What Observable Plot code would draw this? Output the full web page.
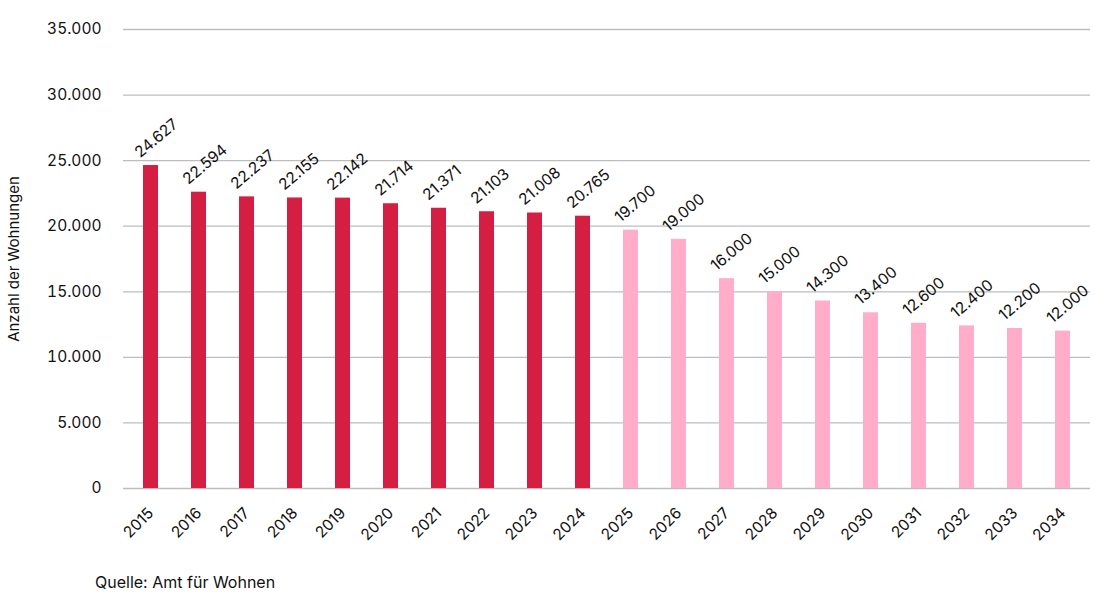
<!DOCTYPE html>
<html><head><meta charset="utf-8">
<script src="https://cdn.jsdelivr.net/npm/d3@7"></script>
<script src="https://cdn.jsdelivr.net/npm/@observablehq/plot@0.6"></script>
<style>
body{margin:0;background:#fff;font-family:Inter,sans-serif;}
#caption{position:absolute;left:95px;top:572px;font-size:16px;color:#111;}
</style></head><body>
<div id="chart"></div>
<div id="caption">Quelle: Amt für Wohnen</div>
<script>
const years = ["2015","2016","2017","2018","2019","2020","2021","2022","2023","2024","2025","2026","2027","2028","2029","2030","2031","2032","2033","2034"];
const values = [24627,22594,22237,22155,22142,21714,21371,21103,21008,20765,19700,19000,16000,15000,14300,13400,12600,12400,12200,12000];
const kinds = ["Ist","Ist","Ist","Ist","Ist","Ist","Ist","Ist","Ist","Ist","Prognose","Prognose","Prognose","Prognose","Prognose","Prognose","Prognose","Prognose","Prognose","Prognose"];
const yTicks = [0,5000,10000,15000,20000,25000,30000,35000];

const data = years.map((y,i)=>({year:y, value:values[i], kind:kinds[i]}));
const de = d3.formatLocale({decimal:",", thousands:".", grouping:[3], currency:["","€"]});
const fmt = de.format(",d");

const chart = Plot.plot({
  width:1111, height:558,
  marginLeft:123, marginRight:21, marginTop:29, marginBottom:70,
  style:{fontFamily:"Inter, sans-serif", fontSize:"15.5px", color:"#111"},
  x:{domain:years, paddingInner:0.69, paddingOuter:0.345, label:null, tickSize:0, tickRotate:-45, tickPadding:22},
  y:{domain:[0,35000], ticks:yTicks, tickFormat:fmt, label:null, tickSize:0, tickPadding:22},
  color:{domain:["Ist","Prognose"], range:["#d41f42","#ffadc8"]},
  marks:[
    Plot.gridY(yTicks, {stroke:"#bdbdbd", strokeOpacity:1, strokeWidth:1.3}),
    Plot.barY(data, {x:"year", y:"value", fill:"kind"}),
    Plot.text(data, {x:"year", y:"value", text:d=>fmt(d.value), rotate:-40, textAnchor:"start", dx:-14, dy:-11, fontSize:15.5, fill:"#111"}),
    Plot.text(["Anzahl der Wohnungen"], {frameAnchor:"left", text:d=>d, rotate:-90, textAnchor:"middle", dx:-109, fontSize:15, fill:"#111"})
  ]
});
document.getElementById("chart").appendChild(chart);
</script>
</body></html>
